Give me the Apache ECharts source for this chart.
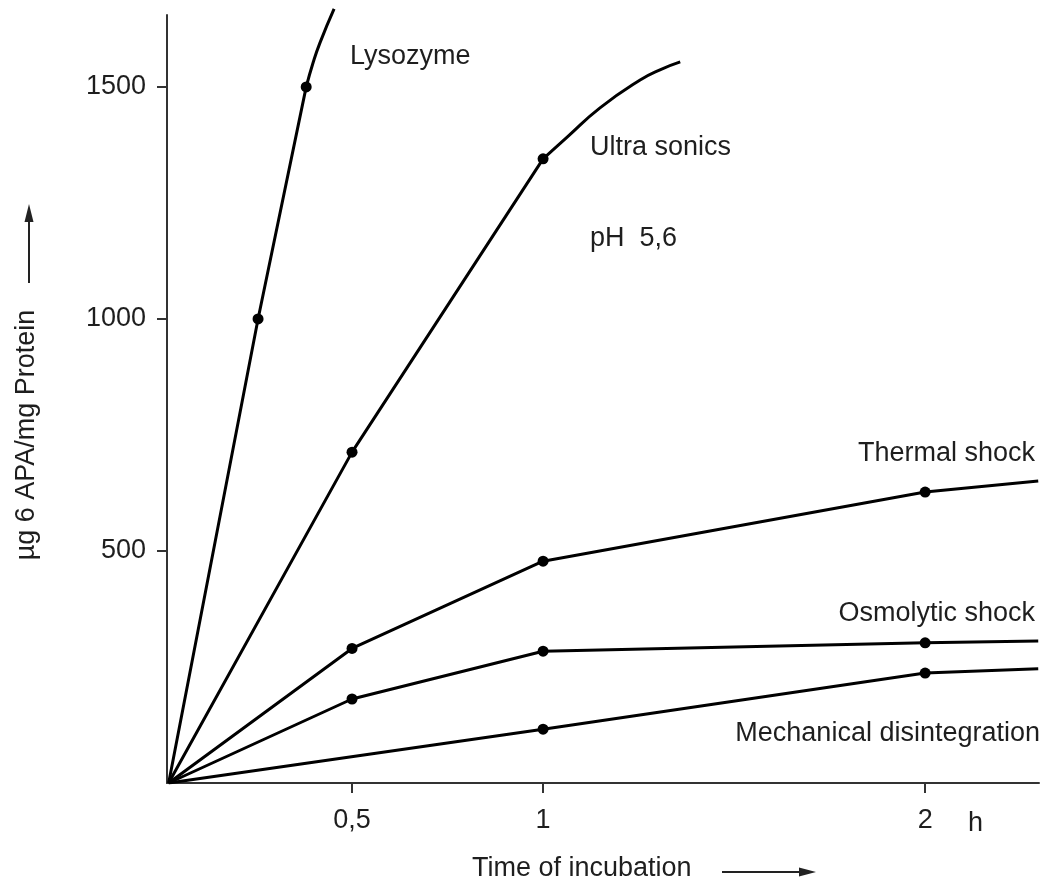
<!DOCTYPE html>
<html>
<head>
<meta charset="utf-8">
<script src="https://cdn.jsdelivr.net/npm/echarts@6/dist/echarts.min.js"></script>
<style>
html,body{margin:0;padding:0;background:#fff;}
#chart{width:1043px;height:882px;}
</style>
</head>
<body>
<div id="chart"></div>
<script>
// ---- data (time in h, value in µg 6 APA / mg protein) ----
// straight (measured) parts
const lysoTime    = [0.02, 0.254, 0.380];
const lysoValue   = [0,    1000,  1500];
const lysoMarked  = [false, true, true];
// curved tail after the last measured point
const lysoTailTime  = [0.380, 0.398, 0.416, 0.453];
const lysoTailValue = [1500,  1552,  1595,  1668];

const ultraTime   = [0.02, 0.5, 1.0];
const ultraValue  = [0,    713, 1345];
const ultraMarked = [false, true, true];
const ultraTailTime  = [1.0,  1.063, 1.149, 1.254, 1.306, 1.359];
const ultraTailValue = [1345, 1392,  1455,  1515,  1537,  1554];

const thermTime   = [0.02, 0.5, 1.0, 2.0, 2.296];
const thermValue  = [0,    290, 478, 627, 651];
const thermMarked = [false, true, true, true, false];

const osmoTime    = [0.02, 0.5, 1.0, 2.0, 2.296];
const osmoValue   = [0,    181, 284, 302, 306];
const osmoMarked  = [false, true, true, true, false];

const mechTime    = [0.02, 1.0, 2.0, 2.296];
const mechValue   = [0,    116, 237, 246];
const mechMarked  = [false, true, true, false];

const xTickValues = [0.5, 1, 2];
const xTickLabels = ['0,5', '1', '2'];
const yTickValues = [500, 1000, 1500];

const seriesNames = ['Lysozyme', 'Ultra sonics', 'Thermal shock', 'Osmolytic shock', 'Mechanical disintegration'];

// ---- build ----
const FONT = '"Liberation Sans", Arial, Helvetica, sans-serif';
const TXT = '#1e1e1e';

function build(t, v, m) {
  return t.map((x, i) => ({
    value: [x, v[i]],
    symbol: m && m[i] ? 'circle' : 'none',
    symbolSize: m && m[i] ? 11 : 0
  }));
}

function lineSeries(name, t, v, m, clip, smooth, z) {
  return {
    name: name,
    type: 'line',
    data: build(t, v, m),
    smooth: smooth,
    clip: clip,
    lineStyle: { color: '#000', width: 3 },
    itemStyle: { color: '#000' },
    emphasis: { disabled: true },
    z: z || 3
  };
}

function txt(text, x, y, align, rot) {
  return {
    type: 'text',
    x: x, y: y,
    rotation: rot || 0,
    style: {
      text: text,
      fill: TXT,
      font: '27px ' + FONT,
      textAlign: align || 'left',
      textVerticalAlign: 'middle'
    },
    z: 10
  };
}

const chart = echarts.init(document.getElementById('chart'), null, { renderer: 'canvas' });

const option = {
  animation: false,
  backgroundColor: '#fff',
  grid: { left: 167, right: 4, top: 15, bottom: 99, containLabel: false, outerBoundsMode: 'none' },
  xAxis: {
    type: 'value',
    min: 0.0157,
    max: 2.298,
    axisLine: { show: true, lineStyle: { color: '#333', width: 2 } },
    axisTick: { show: true, customValues: xTickValues, length: 10, inside: false, lineStyle: { color: '#333', width: 2 } },
    axisLabel: {
      show: true, customValues: xTickValues, margin: 24,
      color: TXT, fontSize: 27, fontFamily: FONT,
      formatter: function (val) {
        const i = xTickValues.findIndex(x => Math.abs(x - val) < 1e-6);
        return i >= 0 ? xTickLabels[i] : '';
      }
    },
    splitLine: { show: false }
  },
  yAxis: {
    type: 'value',
    min: 0,
    max: 1655,
    axisLine: { show: true, lineStyle: { color: '#333', width: 2 } },
    axisTick: { show: true, customValues: yTickValues, length: 10, inside: false, lineStyle: { color: '#333', width: 2 } },
    axisLabel: {
      show: true, customValues: yTickValues, margin: 21,
      color: TXT, fontSize: 27, fontFamily: FONT,
      formatter: function (val) { return String(val); }
    },
    splitLine: { show: false }
  },
  series: [
    lineSeries(seriesNames[0], lysoTime, lysoValue, lysoMarked, false, false, 4),
    lineSeries(seriesNames[0] + ' (tail)', lysoTailTime, lysoTailValue, null, false, 0.5, 3),
    lineSeries(seriesNames[1], ultraTime, ultraValue, ultraMarked, true, false, 4),
    lineSeries(seriesNames[1] + ' (tail)', ultraTailTime, ultraTailValue, null, true, 0.5, 3),
    lineSeries(seriesNames[2], thermTime, thermValue, thermMarked, true, false),
    lineSeries(seriesNames[3], osmoTime, osmoValue, osmoMarked, true, false),
    lineSeries(seriesNames[4], mechTime, mechValue, mechMarked, true, false)
  ],
  graphic: [
    txt(seriesNames[0], 350, 57, 'left'),
    txt(seriesNames[1], 590, 148, 'left'),
    txt('pH  5,6', 590, 239, 'left'),
    txt(seriesNames[2], 1035, 454, 'right'),
    txt(seriesNames[3], 1035, 614, 'right'),
    txt(seriesNames[4], 1040, 734, 'right'),
    txt('Time of incubation', 472, 869, 'left'),
    txt('h', 968, 824, 'left'),
    txt('µg 6 APA/mg Protein', 27, 435, 'center', Math.PI / 2),
    // y-axis name arrow
    { type: 'line', shape: { x1: 29, y1: 283, x2: 29, y2: 218 }, style: { stroke: '#222', lineWidth: 2 }, z: 10 },
    { type: 'polygon', shape: { points: [[29, 204], [24.5, 222], [33.5, 222]] }, style: { fill: '#222' }, z: 10 },
    // x-axis name arrow
    { type: 'line', shape: { x1: 722, y1: 872, x2: 803, y2: 872 }, style: { stroke: '#222', lineWidth: 2 }, z: 10 },
    { type: 'polygon', shape: { points: [[816, 872], [799, 867.5], [799, 876.5]] }, style: { fill: '#222' }, z: 10 }
  ]
};

chart.setOption(option);
</script>
</body>
</html>
